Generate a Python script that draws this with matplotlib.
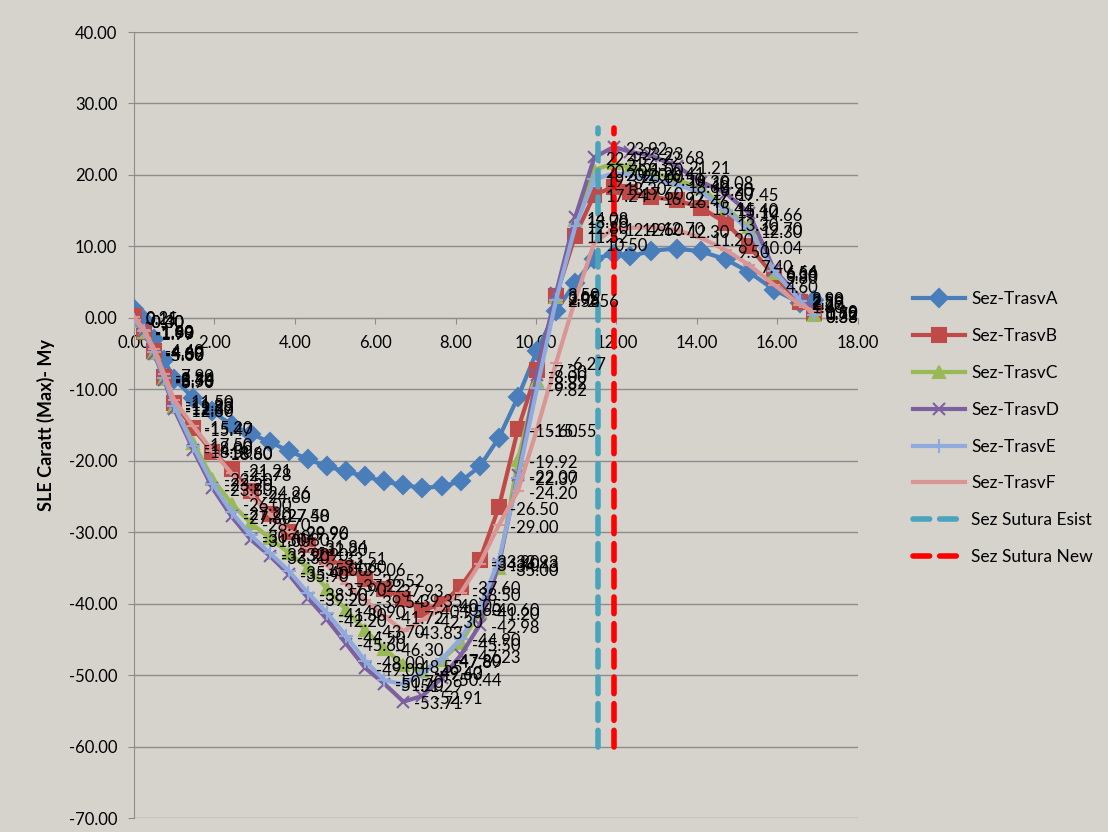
import matplotlib
matplotlib.use("Agg")
import matplotlib.pyplot as plt

plt.rcParams['font.family'] = ['Lato', 'DejaVu Sans']

# ascissa comune delle sezioni
x = [0, 0.25, 0.5, 0.75, 1.0, 1.475, 1.95, 2.425, 2.9, 3.375, 3.85, 4.325, 4.8,
     5.275, 5.75, 6.225, 6.7, 7.175, 7.65, 8.125, 8.6, 9.075, 9.55, 10.025, 10.5,
     10.975, 11.45, 11.93, 12.35, 12.87, 13.5, 14.1, 14.72, 15.3, 15.93, 16.57, 16.92]

sez_a = [1.21, -0.30, -3.00, -5.90, -8.60, -11.20, -13.10, -15.00, -16.20, -17.40,
         -18.60, -19.80, -20.80, -21.50, -22.20, -22.90, -23.40, -23.80, -23.60, -22.90,
         -20.80, -16.80, -11.10, -4.60, 1.00, 4.90, 8.30, 8.90, 8.60, 9.40, 9.70, 9.30,
         8.20, 6.40, 3.90, 2.10, 2.50]
sez_b = [0.21, -1.99, -4.69, -8.34, -11.93, -15.47, -18.80, -21.21, -24.26, -27.48,
         -29.96, -31.84, -33.51, -35.06, -36.52, -37.93, -39.35, -40.95, -40.05, -37.60,
         -33.90, -26.50, -15.60, -7.30, 3.05, 11.52, 17.24, 18.30, 17.60, 16.92, 16.46,
         15.44, 13.30, 10.04, 5.80, 2.20, 0.72]
sez_c = [-0.40, -1.93, -4.88, -8.56, -12.47, -17.50, -22.50, -26.00, -28.70, -30.80,
         -32.90, -35.00, -37.90, -40.90, -43.70, -46.30, -48.55, -49.40, -47.89, -45.50,
         -41.20, -35.00, -19.92, -8.82, 2.95, 13.70, 20.70, 21.63, 21.00, 20.41, 19.30,
         18.20, 15.40, 12.70, 6.30, 2.59, 0.33]
sez_d = [-0.40, -1.90, -5.00, -8.70, -12.80, -18.50, -23.80, -27.80, -31.00, -33.30,
         -35.90, -39.20, -42.20, -45.60, -49.00, -51.20, -53.71, -52.91, -50.44, -47.23,
         -42.98, -34.43, -22.00, -8.00, 3.50, 14.08, 22.45, 23.92, 23.23, 22.68, 21.21,
         19.08, 17.45, 14.66, 6.66, 2.90, 1.10]
sez_e = [-0.30, -1.80, -4.80, -8.40, -12.30, -18.00, -23.20, -27.20, -30.40, -32.90,
         -35.40, -38.50, -41.30, -44.50, -48.00, -50.70, -51.29, -49.63, -47.80, -44.90,
         -40.60, -33.93, -22.37, -9.82, 2.56, 12.80, 19.37, 20.20, 20.00, 19.50, 18.60,
         17.60, 15.10, 12.30, 6.54, 2.39, 0.33]
sez_f = [0.15, -1.69, -4.40, -7.90, -11.50, -15.20, -18.60, -21.78, -24.80, -27.50,
         -29.90, -32.20, -34.60, -37.22, -39.54, -41.72, -43.83, -42.30, -40.60, -38.50,
         -34.40, -29.00, -24.20, -15.55, -6.27, 2.56, 10.50, 12.49, 12.60, 12.70, 12.30,
         11.20, 9.50, 7.40, 4.60, 1.80, 0.88]

sutura_esist_x = [11.55, 11.55]
sutura_new_x = [11.93, 11.93]
sutura_y = [-60, 26.5]

bg = '#d6d3cc'
fig = plt.figure(figsize=(11.08, 8.32), dpi=100, facecolor=bg)
ax = fig.add_axes([0.121, 0.0168, 0.653, 0.9447], facecolor=bg)

series = [
    ("Sez-TrasvA", sez_a, '#4a7ebb', 'D', 9, False),
    ("Sez-TrasvB", sez_b, '#be4b48', 's', 10, True),
    ("Sez-TrasvC", sez_c, '#98b954', '^', 9, True),
    ("Sez-TrasvD", sez_d, '#7d60a0', 'x', 9, True),
    ("Sez-TrasvE", sez_e, '#8faadc', '+', 10, True),
    ("Sez-TrasvF", sez_f, '#da9694', '_', 9, True),
]

for name, vals, col, mk, ms, lab in series:
    ax.plot(x, vals, color=col, lw=3, marker=mk, ms=ms, mfc=col, mec=col,
            mew=1.5, label=name, zorder=3)

ax.plot(sutura_esist_x, sutura_y, color='#4ba3bc', lw=4, ls=(0, (3, 1.8)),
        dash_capstyle='round', label='Sez Sutura Esist', zorder=4)
ax.plot(sutura_new_x, sutura_y, color='#ff0000', lw=4, ls=(0, (3, 1.8)),
        dash_capstyle='round', label='Sez Sutura New', zorder=4)

# etichette dati
for name, vals, col, mk, ms, lab in series:
    if not lab:
        continue
    for xi, v in zip(x, vals):
        ax.annotate(f"{v:.2f}", (xi, v), xytext=(8, -2), textcoords='offset points',
                    ha='left', va='center', fontsize=12, color='black', zorder=6)

ax.set_xlim(0, 18)
ax.set_ylim(-70, 40)
ax.set_xticks(range(0, 19, 2))
ax.set_xticklabels([f"{v:.2f}" for v in range(0, 19, 2)])
ax.set_yticks(range(-70, 41, 10))
ax.set_yticklabels([f"{v:.2f}" for v in range(-70, 41, 10)])
ax.yaxis.grid(True, color='#8c8c8c', lw=1)
ax.set_axisbelow(True)

for s in ['top', 'right']:
    ax.spines[s].set_visible(False)
ax.spines['bottom'].set_position(('data', 0))
ax.spines['bottom'].set_color('#8c8c8c')
ax.spines['left'].set_color('#8c8c8c')
ax.tick_params(axis='both', colors='#8c8c8c', labelcolor='black', labelsize=12, length=4)
ax.tick_params(axis='y', pad=8)
ax.tick_params(axis='x', pad=8)

ax.set_ylabel("SLE Caratt (Max)- My", fontsize=13, fontweight='bold', labelpad=10)

ax.legend(loc='upper left', bbox_to_anchor=(1.055, 0.69), frameon=False,
          fontsize=12.5, handlelength=3.0, handletextpad=0.35, labelspacing=1.2)

fig.savefig("out.png", dpi=100, facecolor=bg)
